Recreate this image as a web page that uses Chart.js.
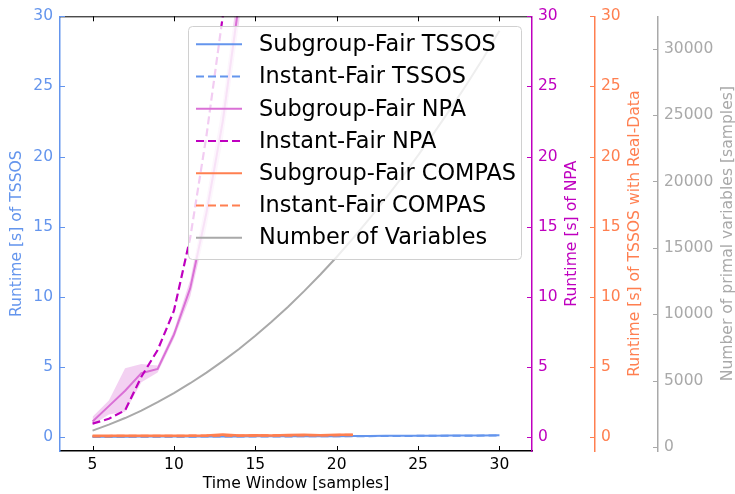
<!DOCTYPE html>
<html><head><meta charset="utf-8">
<script src="https://cdn.jsdelivr.net/npm/chart.js@4.4.0/dist/chart.umd.min.js"></script>
<style>html,body{margin:0;padding:0;background:#fff}</style>
</head><body>
<canvas id="c" width="735" height="494"></canvas>
<script>
// ---- data ----
const tssosWindows   = [5,6,7,8,9,10,11,12,13,14,15,16,17,18,19,20,21,22,23,24,25,26,27,28,29,30];
const tssosSubgroup  = [0.02,0.02,0.02,0.03,0.03,0.03,0.03,0.04,0.04,0.04,0.05,0.05,0.05,0.06,0.06,0.06,0.07,0.07,0.08,0.08,0.09,0.09,0.10,0.10,0.11,0.12];
const tssosInstant   = [0.01,0.01,0.01,0.02,0.02,0.02,0.02,0.03,0.03,0.03,0.04,0.04,0.04,0.05,0.05,0.05,0.06,0.06,0.07,0.07,0.08,0.08,0.09,0.09,0.10,0.11];

const npaWindows       = [5,6,7,8,9,10,11,12,13,14,15];
const npaSubgroup      = [1.1,2.2,3.3,4.55,4.85,7.3,10.6,16.0,22.5,31.0,42.0];
const npaSubgroupUpper = [1.45,2.6,4.9,5.2,5.1,7.6,11.2,17.0,23.8,32.5,44.0];
const npaSubgroupLower = [0.85,1.6,1.8,3.9,4.6,7.0,10.0,15.0,21.2,29.5,40.0];
const npaInstant       = [0.95,1.3,1.9,4.3,6.2,9.0,14.2,21.5,30.0,40.0,52.0];

const compasWindows  = [5,6,7,8,9,10,11,12,13,14,15,16,17,18,19,20,21];
const compasSubgroup = [0.08,0.08,0.08,0.08,0.08,0.09,0.09,0.10,0.17,0.10,0.12,0.10,0.14,0.15,0.13,0.15,0.16];
const compasInstant  = [0.06,0.06,0.07,0.07,0.07,0.07,0.08,0.08,0.10,0.09,0.10,0.10,0.11,0.12,0.12,0.13,0.14];

const varWindows   = [5,6,7,8,9,10,11,12,13,14,15,16,17,18,19,20,21,22,23,24,25,26,27,28,29,30];
const numVariables = [1250,1700,2200,2760,3390,4080,4820,5620,6480,7400,8390,9440,10560,11750,13000,14320,15720,17180,18710,20300,21960,23690,25480,27340,29280,31350];

const xTicks        = [5,10,15,20,25,30];
const runtimeTicks  = [0,5,10,15,20,25,30];
const variableTicks = [0,5000,10000,15000,20000,25000,30000];

const labels = {
  tssosSub: 'Subgroup-Fair TSSOS', tssosInst: 'Instant-Fair TSSOS',
  npaSub: 'Subgroup-Fair NPA', npaInst: 'Instant-Fair NPA',
  compasSub: 'Subgroup-Fair COMPAS', compasInst: 'Instant-Fair COMPAS',
  vars: 'Number of Variables'
};
const axisTitles = {
  y: 'Runtime [s] of TSSOS', yNPA: 'Runtime [s] of NPA',
  yCompas: 'Runtime [s] of TSSOS with Real-Data', yVars: 'Number of primal variables [samples]',
  x: 'Time Window [samples]'
};

// ---- styling ----
const BLUE = '#6495ED', ORCHID = '#DA70D6', MAG = '#BF00BF', CORAL = '#FF7F50', GRAY = '#A9A9A9';
const FONT = 'DejaVu Sans';
const pts = (xs, ys) => xs.map((x, i) => ({x, y: ys[i]}));
const DASH = [8, 4];

function line(label, xs, ys, color, axis, dashed, order, width) {
  return {label, data: pts(xs, ys), yAxisID: axis, borderColor: color, backgroundColor: color,
    borderWidth: width || 2, borderDash: dashed ? DASH : [], pointRadius: 0, tension: 0, fill: false, order};
}

const datasets = [
  line(labels.vars, varWindows, numVariables, GRAY, 'yVars', false, 0),
  line(labels.compasSub, compasWindows, compasSubgroup, CORAL, 'yCompas', false, 1, 2.5),
  line(labels.compasInst, compasWindows, compasInstant, CORAL, 'yCompas', true, 2, 2.5),
  line(labels.npaInst, npaWindows, npaInstant, MAG, 'yNPA', true, 3, 2.2),
  line(labels.npaSub, npaWindows, npaSubgroup, ORCHID, 'yNPA', false, 4),
  {label: '_upper', data: pts(npaWindows, npaSubgroupUpper), yAxisID: 'yNPA', borderWidth: 0, pointRadius: 0,
   backgroundColor: 'rgba(218,112,214,0.32)', fill: false, order: 5},
  {label: '_lower', data: pts(npaWindows, npaSubgroupLower), yAxisID: 'yNPA', borderWidth: 0, pointRadius: 0,
   backgroundColor: 'rgba(218,112,214,0.32)', fill: '-1', order: 6},
  line(labels.tssosSub, tssosWindows, tssosSubgroup, BLUE, 'y', false, 7),
  line(labels.tssosInst, tssosWindows, tssosInstant, BLUE, 'y', true, 8),
];

const legendOrder = [labels.tssosSub, labels.tssosInst, labels.npaSub, labels.npaInst, labels.compasSub, labels.compasInst, labels.vars];

function setTicks(arr) { return s => { s.ticks = arr.map(v => ({value: v})); }; }

function yAxis(position, min, max, tickArr, color, width, titleText, showTitle) {
  return {
    type: 'linear', position, min, max,
    afterBuildTicks: setTicks(tickArr),
    afterFit: s => { s.width = width; },
    grid: {display: false, drawTicks: false, drawOnChartArea: false},
    border: {display: true, color, width: 1.5},
    ticks: {color, font: {family: FONT, size: 15.5}, padding: position === 'left' ? 7 : 6,
            callback: v => String(v)},
    title: {display: !!showTitle, text: titleText, color, font: {family: FONT, size: 15.6}, padding: {top: 8, bottom: 0}}
  };
}

const decor = {
  id: 'decor',
  afterDraw(chart, args, opts) {
    const ctx = chart.ctx, a = chart.chartArea, sc = chart.scales;
    ctx.save();
    ctx.lineWidth = 1;
    // top spine
    ctx.strokeStyle = '#000';
    ctx.beginPath(); ctx.moveTo(a.left, a.top + 0.5); ctx.lineTo(a.right, a.top + 0.5); ctx.stroke();
    // x ticks (inward, top and bottom)
    sc.x.ticks.forEach(t => {
      const px = Math.round(sc.x.getPixelForValue(t.value)) + 0.5;
      ctx.beginPath(); ctx.moveTo(px, a.bottom); ctx.lineTo(px, a.bottom - 5); ctx.stroke();
      ctx.beginPath(); ctx.moveTo(px, a.top); ctx.lineTo(px, a.top + 5); ctx.stroke();
    });
    // left y ticks
    ctx.strokeStyle = BLUE;
    sc.y.ticks.forEach(t => {
      const py = Math.round(sc.y.getPixelForValue(t.value)) + 0.5;
      ctx.beginPath(); ctx.moveTo(a.left, py); ctx.lineTo(a.left + 5, py); ctx.stroke();
    });
    // right axes ticks + titles
    opts.right.forEach(r => {
      const s = sc[r.id];
      ctx.strokeStyle = r.color;
      s.ticks.forEach(t => {
        const py = Math.round(s.getPixelForValue(t.value)) + 0.5;
        ctx.beginPath(); ctx.moveTo(s.left - 5, py); ctx.lineTo(s.left, py); ctx.stroke();
      });
      ctx.save();
      ctx.translate(s.left + r.titleOffset, (a.top + a.bottom) / 2);
      ctx.rotate(-Math.PI / 2);
      ctx.fillStyle = r.color;
      ctx.font = '15.6px "' + FONT + '"';
      ctx.textAlign = 'center'; ctx.textBaseline = 'middle';
      ctx.fillText(axisTitles[r.id], 0, 0);
      ctx.restore();
    });
    // legend
    const L = opts.legend;
    ctx.beginPath();
    ctx.roundRect(L.x + 0.5, L.y + 0.5, L.w, L.h, 4);
    ctx.fillStyle = 'rgba(255,255,255,0.8)';
    ctx.fill();
    ctx.strokeStyle = '#d0d0d0'; ctx.lineWidth = 1; ctx.stroke();
    ctx.font = L.fontSize + 'px "' + FONT + '"';
    ctx.textAlign = 'left'; ctx.textBaseline = 'alphabetic';
    legendOrder.forEach((lab, i) => {
      const ds = chart.data.datasets.find(d => d.label === lab);
      const yy = L.y + L.firstRow + i * L.rowGap;
      ctx.strokeStyle = ds.borderColor; ctx.lineWidth = 2;
      ctx.setLineDash(ds.borderDash || []);
      ctx.beginPath(); ctx.moveTo(L.x + L.lineStart, yy); ctx.lineTo(L.x + L.lineStart + L.lineLen, yy); ctx.stroke();
      ctx.setLineDash([]);
      ctx.fillStyle = '#000';
      ctx.fillText(lab, L.x + L.textStart, yy + L.baseline);
    });
    ctx.restore();
  }
};

new Chart(document.getElementById('c'), {
  type: 'line',
  data: {datasets},
  plugins: [decor],
  options: {
    responsive: false, animation: false, devicePixelRatio: 1,
    layout: {padding: {top: 15, left: 0, right: 0, bottom: 0}},
    plugins: {
      legend: {display: false}, tooltip: {enabled: false},
      decor: {
        right: [
          {id: 'yNPA', color: MAG, titleOffset: 39.7},
          {id: 'yCompas', color: CORAL, titleOffset: 40},
          {id: 'yVars', color: GRAY, titleOffset: 70.3}
        ],
        legend: {x: 188, y: 26, w: 333, h: 233, firstRow: 18.3, rowGap: 32.23, lineStart: 8, lineLen: 46, textStart: 71, baseline: 6.8, fontSize: 22.4}
      }
    },
    scales: {
      x: {
        type: 'linear', position: 'bottom', min: 3, max: 32,
        afterBuildTicks: setTicks(xTicks),
        afterFit: s => { s.height = 43; },
        grid: {display: false, drawTicks: false},
        border: {display: true, color: '#000', width: 1.5},
        ticks: {color: '#000', font: {family: FONT, size: 15.5}, padding: 5, maxRotation: 0},
        title: {display: true, text: axisTitles.x, color: '#000', font: {family: FONT, size: 15.6}, padding: {top: 0, bottom: 1}}
      },
      y: yAxis('left', -1, 30, runtimeTicks, BLUE, 60, axisTitles.y, true),
      yNPA: yAxis('right', -1, 30, runtimeTicks, MAG, 63, axisTitles.yNPA, false),
      yCompas: yAxis('right', -1, 30, runtimeTicks, CORAL, 63, axisTitles.yCompas, false),
      yVars: yAxis('right', -280, 32430, variableTicks, GRAY, 77, axisTitles.yVars, false)
    }
  }
});
</script>
</body></html>
